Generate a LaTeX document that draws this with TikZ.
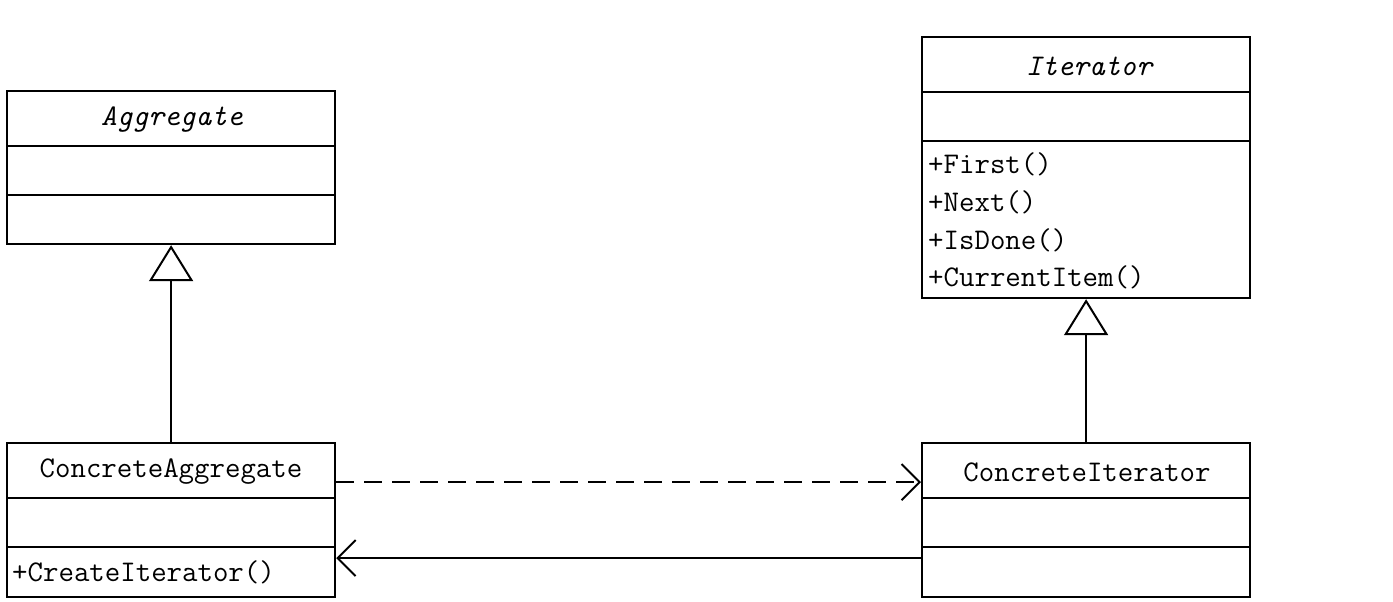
\documentclass[tikz,border=0pt]{standalone}
\usepackage{fontspec}
\usetikzlibrary{arrows.meta}
\begin{document}
\begin{tikzpicture}[x=1pt,y=-1pt,
  classbox/.style={draw,line width=2.2pt,rectangle,anchor=north west,minimum width=328pt,inner sep=0pt},
  divider/.style={line width=2.2pt},
  title/.style={font=\fontsize{30}{36}\selectfont\ttfamily,inner sep=0pt},
  ititle/.style={font=\fontsize{30}{36}\selectfont\ttfamily\itshape,inner sep=0pt},
  member/.style={font=\fontsize{30}{36}\selectfont\ttfamily,inner sep=0pt,anchor=west},
  inherit/.style={line width=2pt,-{Triangle[open,length=36pt,width=44pt,line width=2pt,fill=white]}},
  dep/.style={line width=2pt,dash pattern=on 18pt off 10pt,-{Straight Barb[length=18pt,width=36pt,line width=2pt]}},
  assoc/.style={line width=2pt,-{Straight Barb[length=18pt,width=36pt,line width=2pt]}}]
\useasboundingbox (0,0) rectangle (1393,602);
% Aggregate
\node[classbox,minimum height=153pt] (agg) at (6,90) {};
\draw[divider] (6,146) -- (334,146);
\draw[divider] (6,195) -- (334,195);
\node[ititle] (aggT) at (172,120) {Aggregate};
% Iterator
\node[classbox,minimum height=261pt] (it) at (921,36) {};
\draw[divider] (921,92) -- (1250,92);
\draw[divider] (921,141) -- (1250,141);
\node[ititle] (itT) at (1089,66) {Iterator};
\node[member] (m1) at (928,164) {+First()};
\node[member] (m2) at (928,202) {+Next()};
\node[member] (m3) at (928,240) {+IsDone()};
\node[member] (m4) at (928,277) {+CurrentItem()};
% ConcreteAggregate
\node[classbox,minimum height=154pt] (cagg) at (6,442) {};
\draw[divider] (6,498) -- (334,498);
\draw[divider] (6,547) -- (334,547);
\node[title] (caggT) at (171,472) {ConcreteAggregate};
\node[member] (m5) at (12,572) {+CreateIterator()};
% ConcreteIterator
\node[classbox,minimum height=154pt] (cit) at (921,442) {};
\draw[divider] (921,498) -- (1250,498);
\draw[divider] (921,547) -- (1250,547);
\node[title] (citT) at (1087,472) {ConcreteIterator};
% connectors
\draw[inherit] (cagg.north) -- (agg.south);
\draw[inherit] (cit.north) -- (it.south);
\draw[dep] ([yshift=38pt]cagg.east) -- ([yshift=38pt]cit.west);
\draw[assoc] ([yshift=-38pt]cit.west) -- ([yshift=-38pt]cagg.east);
\end{tikzpicture}
\end{document}
